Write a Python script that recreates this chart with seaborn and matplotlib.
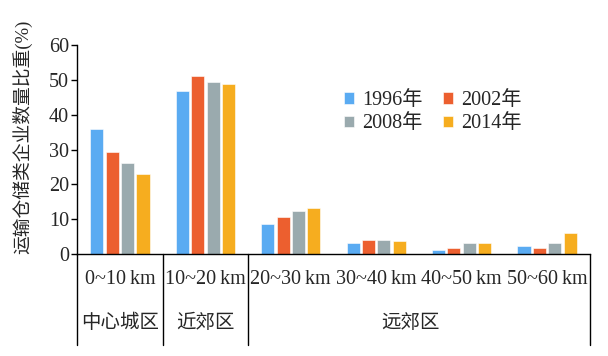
import pandas as pd
import numpy as np
import matplotlib
matplotlib.use('Agg')
import matplotlib.pyplot as plt
import seaborn as sns

# Данные
distances = ['0~10\u2009km', '10~20\u2009km', '20~30\u2009km', '30~40\u2009km', '40~50\u2009km', '50~60\u2009km']
years = ['1996年', '2002年', '2008年', '2014年']
v1996 = [35.9, 46.7, 8.5, 3.3, 1.2, 2.2]
v2002 = [29.3, 51.0, 10.7, 4.1, 1.6, 1.6]
v2008 = [26.1, 49.3, 12.4, 4.1, 3.3, 3.3]
v2014 = [23.1, 48.9, 13.1, 3.8, 3.3, 6.0]
zones = ['中心城区', '近郊区', '远郊区']
zone_centers = [0, 1, 3.4]
zone_edges = [-0.5, 0.5, 1.5, 5.5]
colors = ['#5AABF2', '#EC5F2F', '#9AAAAE', '#F6AD1F']

df = pd.DataFrame({
    'dist': distances * 4,
    'year': np.repeat(years, len(distances)),
    'value': v1996 + v2002 + v2008 + v2014,
})

sns.set_style('ticks')
plt.rcParams['font.family'] = ['Liberation Serif', 'Noto Sans CJK SC', 'DejaVu Sans']
plt.rcParams['font.size'] = 14

fig = plt.figure(figsize=(6.08, 3.56), dpi=100)
ax = fig.add_axes([0.127, 0.2865, 0.843, 0.587])

sns.barplot(data=df, x='dist', y='value', hue='year', palette=colors, saturation=1,
            width=0.72, gap=0.15, edgecolor='white', linewidth=0.4, ax=ax)

ax.set_ylim(0, 60)
ax.set_xlim(-0.5, 5.5)
ax.set_yticks(range(0, 61, 10))
ax.tick_params(axis='y', length=4, width=1, labelsize=14.5, pad=2, color='black')
ax.tick_params(axis='x', length=0, labelbottom=False)
ax.set_xlabel('')
ax.set_ylabel('运输仓储类企业数量比重(%)', fontsize=13.5)
ax.yaxis.set_label_coords(-0.088, 0.56)
sns.despine(ax=ax)
for s in ['left', 'bottom']:
    ax.spines[s].set_color('black')
    ax.spines[s].set_linewidth(1)

# Таблица под осью
tr = ax.get_xaxis_transform()
for i, d in enumerate(distances):
    ax.text(i, -0.124, d, transform=tr, ha='center', va='center', fontsize=14.5)
for z, c in zip(zones, zone_centers):
    ax.text(c, -0.33, z, transform=tr, ha='center', va='center', fontsize=14)
for e in zone_edges:
    ax.plot([e, e], [0, -0.435], transform=tr, color='black', lw=1, clip_on=False)

# Легенда по строкам: 1996, 2002 / 2008, 2014
h, l = ax.get_legend_handles_labels()
order = [0, 2, 1, 3]
ax.legend([h[i] for i in order], [l[i] for i in order],
          loc='upper left', bbox_to_anchor=(0.485, 0.865), ncol=2, frameon=False,
          handlelength=0.5, handleheight=0.5, handletextpad=0.4,
          columnspacing=1.0, labelspacing=0.2, fontsize=14.5)

plt.savefig('out.png', dpi=100)
plt.close()
